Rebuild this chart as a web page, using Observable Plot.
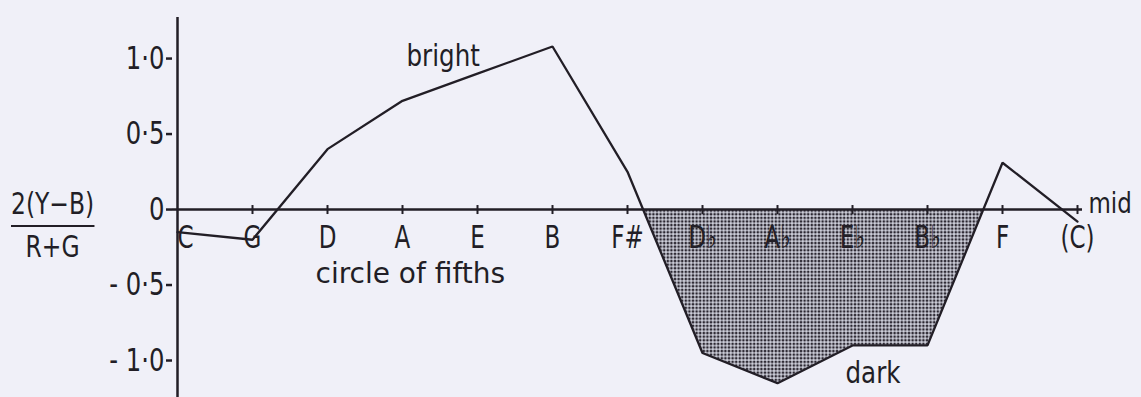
<!DOCTYPE html>
<html>
<head>
<meta charset="utf-8">
<script src="https://cdn.jsdelivr.net/npm/d3@7"></script>
<script src="https://cdn.jsdelivr.net/npm/@observablehq/plot@0.6"></script>
<style>
  html, body { margin: 0; padding: 0; background: #f0f0f8; }
  #wrap { position: relative; width: 1141px; height: 397px; overflow: hidden; }
  .frac { position: absolute; left: 11px; top: 189px; display: inline-block;
          font-family: "DejaVu Sans", sans-serif; transform: scaleX(0.78); transform-origin: 0 0;
          font-size: 30px; color: #221e26; text-align: center; line-height: 1; }
  .frac .num { border-bottom: 2px solid #221e26; padding: 0 0 6px 0; }
  .frac .den { padding-top: 5px; }
</style>
</head>
<body>
<div id="wrap">
  <div class="frac"><div class="num">2(Y−B)</div><div class="den">R+G</div></div>
</div>
<script>
// ---- data ----
const notes = ["C", "G", "D", "A", "E", "B", "F#", "D♭", "A♭", "E♭", "B♭", "F", "(C)"];
const values = [-0.15, -0.2, 0.4, 0.72, 0.9, 1.08, 0.25, -0.95, -1.15, -0.9, -0.9, 0.31, -0.08];
const darkNotes = ["F#", "D♭", "A♭", "E♭", "B♭", "F"];
const yTicks = [-1, -0.5, 0, 0.5, 1];
const yDomain = [-1.245, 1.272];
const words = ["bright", "dark", "mid"];

const data = notes.map((n, i) => ({note: n, v: values[i]}));
const darkData = data.filter(d => darkNotes.includes(d.note));

const ink = "#221e26";
const font = '"DejaVu Sans", sans-serif';
const fmtY = v => v === 0 ? "0" : (v < 0 ? "- " : "") + Math.abs(v).toFixed(1).replace(".", "·");

// vertical tick symbol crossing the x axis
const tickSym = {
  draw(ctx, size) {
    const r = Math.sqrt(size / Math.PI);
    ctx.moveTo(0, -r);
    ctx.lineTo(0, r);
  }
};

const textOpts = {fill: ink, fontFamily: font, fontSize: 30, lineAnchor: "bottom", stroke: null};

const plot = Plot.plot({
  width: 1141,
  height: 397,
  marginLeft: 172,
  marginRight: 59,
  marginTop: 17,
  marginBottom: 0,
  style: {background: "transparent", color: ink, fontFamily: font, overflow: "visible"},
  x: {type: "point", domain: notes, padding: 0, axis: null},
  y: {domain: yDomain, axis: null},
  marks: [
    Plot.areaY(darkData, {x: "note", y1: 0, y2: "v", fill: "url(#dots)", curve: "linear"}),
    Plot.ruleY([0], {stroke: ink, strokeWidth: 2.5}),
    Plot.ruleX([notes[0]], {stroke: ink, strokeWidth: 2.5}),
    Plot.dot(notes.slice(1), {x: d => d, y: () => 0, symbol: tickSym, r: 4.5, stroke: ink, strokeWidth: 2, fill: "none"}),
    Plot.line(data, {x: "note", y: "v", stroke: ink, strokeWidth: 2.3, strokeLinejoin: "miter"}),
    Plot.text([notes[0]], {...textOpts, fontSize: 32, x: d => d, y: () => 0, text: d => d, dy: 38, dx: 8}),
    Plot.text(notes.slice(1), {...textOpts, fontSize: 32, x: d => d, y: () => 0, text: d => d, dy: 38}),
    Plot.text([words[0]], {...textOpts, x: () => "A", y: () => 0.95, text: d => d, textAnchor: "start", dx: 4}),
    Plot.text([words[1]], {...textOpts, x: () => "E♭", y: () => -1.146, text: d => d, textAnchor: "start", dx: -7}),
    Plot.text(["circle of fifths"], {...textOpts, fontSize: 28, x: () => "D", y: () => -0.4636, text: d => d, textAnchor: "start", dx: -12, dy: 3, letterSpacing: 3}),
    Plot.text([words[2]], {...textOpts, fontSize: 28, x: () => "(C)", y: () => 0, text: d => d, textAnchor: "start", dx: 11, dy: 3}),
    Plot.axisY(yTicks, {tickFormat: fmtY, tickSize: 6, tickPadding: 2, fontSize: 32, fontFamily: font, label: null, stroke: ink, strokeWidth: 2.5, fill: ink})
  ]
});

const svg = d3.select(plot);

// condensed look for the lettering (narrow type as in the original)
const condense = (sel, k) => sel.each(function () {
  const t = this.getAttribute("transform") || "";
  this.setAttribute("transform", t + ` scale(${k},1)`);
});
condense(svg.selectAll('g[aria-label="y-axis tick label"] text'), 0.76);
condense(svg.selectAll('g[aria-label="text"] text').filter(function () { return notes.includes(this.textContent); }), 0.72);
condense(svg.selectAll('g[aria-label="text"] text').filter(function () { return words.includes(this.textContent); }), 0.82);

// dot pattern for the "dark" region, clipped to below the zero line
const defs = svg.insert("defs", ":first-child");
const pat = defs.append("pattern").attr("id", "dots").attr("patternUnits", "userSpaceOnUse")
  .attr("width", 3.6).attr("height", 3.6);
pat.append("rect").attr("width", 3.6).attr("height", 3.6).attr("fill", "#cfd0db");
pat.append("circle").attr("cx", 1.8).attr("cy", 1.8).attr("r", 1.35).attr("fill", "#2a2630");
const y0 = plot.scale("y").apply(0);
defs.append("clipPath").attr("id", "below0").append("rect")
  .attr("x", 0).attr("y", y0).attr("width", 1141).attr("height", 397 - y0);
svg.select('g[aria-label="area"]').attr("clip-path", "url(#below0)");

document.getElementById("wrap").prepend(plot);
plot.style.position = "absolute";
plot.style.left = "0";
plot.style.top = "0";
</script>
</body>
</html>
